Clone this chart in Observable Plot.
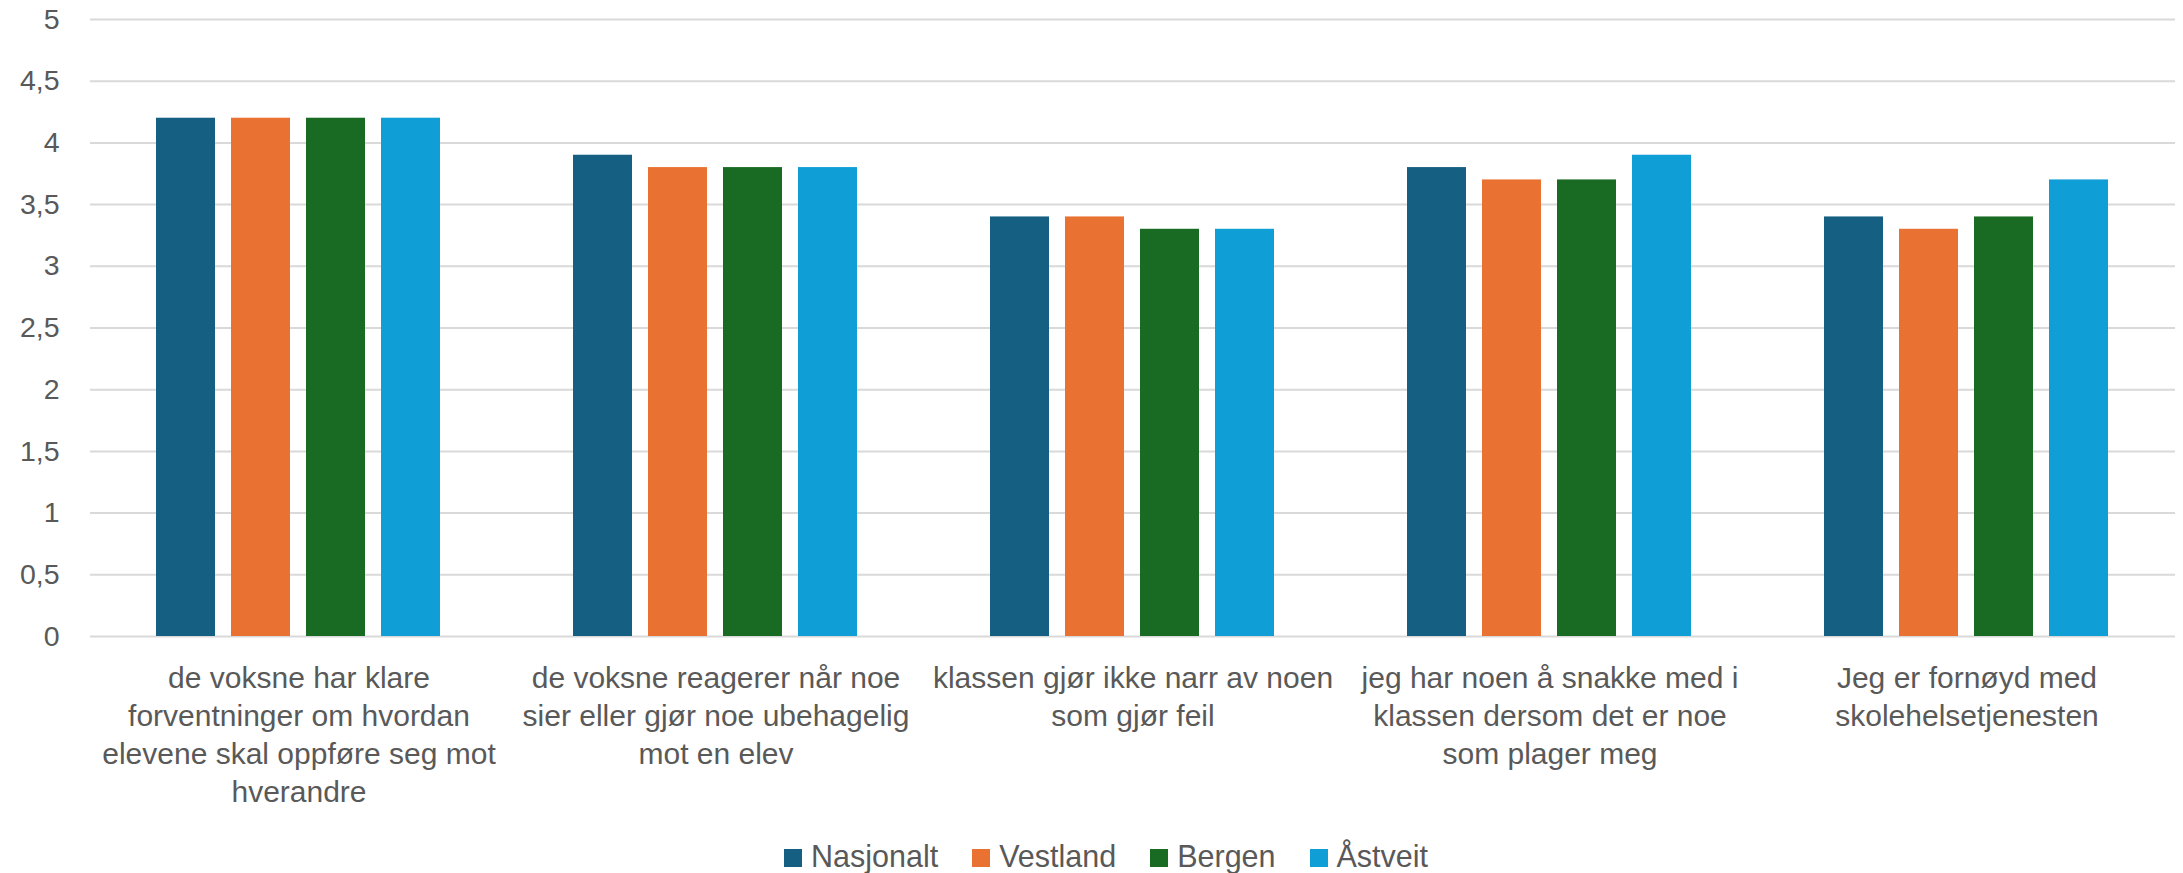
<!DOCTYPE html>
<html>
<head>
<meta charset="utf-8">
<script src="https://cdn.jsdelivr.net/npm/d3@7"></script>
<script src="https://cdn.jsdelivr.net/npm/@observablehq/plot@0.6"></script>
<style>
  html, body { margin: 0; padding: 0; background: #ffffff; }
  body { width: 2183px; height: 873px; overflow: hidden; font-family: "Liberation Sans", Arial, sans-serif; color: #595959; }
  #chart svg { display: block; }
  #legend { position: relative; height: 43px; }
  #legend .row { position: absolute; left: 784px; top: 11px; display: flex; gap: 34px; line-height: 30px; font-size: 30.5px; white-space: nowrap; }
  #legend .item { display: inline-block; }
  #legend .sw { display: inline-block; width: 18px; height: 18px; margin-right: 9px; vertical-align: baseline; }
</style>
</head>
<body>
<div id="chart"></div>
<div id="legend"></div>
<script>
const categories = [
  "de voksne har klare forventninger om hvordan elevene skal oppføre seg mot hverandre",
  "de voksne reagerer når noe sier eller gjør noe ubehagelig mot en elev",
  "klassen gjør ikke narr av noen som gjør feil",
  "jeg har noen å snakke med i klassen dersom det er noe som plager meg",
  "Jeg er fornøyd med skolehelsetjenesten"
];
const categoryLabels = [
  "de voksne har klare\nforventninger om hvordan\nelevene skal oppføre seg mot\nhverandre",
  "de voksne reagerer når noe\nsier eller gjør noe ubehagelig\nmot en elev",
  "klassen gjør ikke narr av noen\nsom gjør feil",
  "jeg har noen å snakke med i\nklassen dersom det er noe\nsom plager meg",
  "Jeg er fornøyd med\nskolehelsetjenesten"
];
const series = ["Nasjonalt", "Vestland", "Bergen", "Åstveit"];
const seriesColors = ["#156082", "#E97132", "#196B24", "#0F9ED5"];
const nasjonalt = [4.2, 3.9, 3.4, 3.8, 3.4];
const vestland  = [4.2, 3.8, 3.4, 3.7, 3.3];
const bergen    = [4.2, 3.8, 3.3, 3.7, 3.4];
const astveit   = [4.2, 3.8, 3.3, 3.9, 3.7];
const yTicks = [0, 0.5, 1, 1.5, 2, 2.5, 3, 3.5, 4, 4.5, 5];

const seriesValues = [nasjonalt, vestland, bergen, astveit];
const data = categories.flatMap((c, i) =>
  series.map((s, j) => ({category: c, series: s, value: seriesValues[j][i]}))
);
const labelMap = new Map(categories.map((c, i) => [c, categoryLabels[i]]));

const chart = Plot.plot({
  width: 2183,
  height: 830,
  marginTop: 19,
  marginBottom: 194,
  marginLeft: 88,
  marginRight: 7,
  style: {fontFamily: '"Liberation Sans", Arial, sans-serif', color: "#595959", background: "#ffffff", overflow: "visible"},
  fx: {domain: categories, padding: 0},
  x: {domain: series, paddingInner: 16 / 76, paddingOuter: 0.852, axis: null},
  y: {domain: [0, 5], axis: null},
  color: {domain: series, range: seriesColors},
  marks: [
    Plot.gridY(yTicks, {stroke: "#D9D9D9", strokeOpacity: 1, strokeWidth: 2}),
    Plot.barY(data, {fx: "category", x: "series", y: "value", fill: "series"}),
    Plot.axisY(yTicks, {
      anchor: "left", tickSize: 0, tickPadding: 31, fontSize: 28.5, label: null,
      tickFormat: d => String(d).replace(".", ",")
    }),
    Plot.axisFx({
      anchor: "bottom", tickSize: 0, tickPadding: 25, fontSize: 30, lineHeight: 38 / 30,
      tickFormat: c => labelMap.get(c), label: null
    })
  ]
});
document.getElementById("chart").appendChild(chart);

const row = d3.select("#legend").append("div").attr("class", "row");
const items = row.selectAll(".item").data(series).join("div").attr("class", "item");
items.append("span").attr("class", "sw").style("background", (d, i) => seriesColors[i]);
items.append("span").text(d => d);
</script>
</body>
</html>
